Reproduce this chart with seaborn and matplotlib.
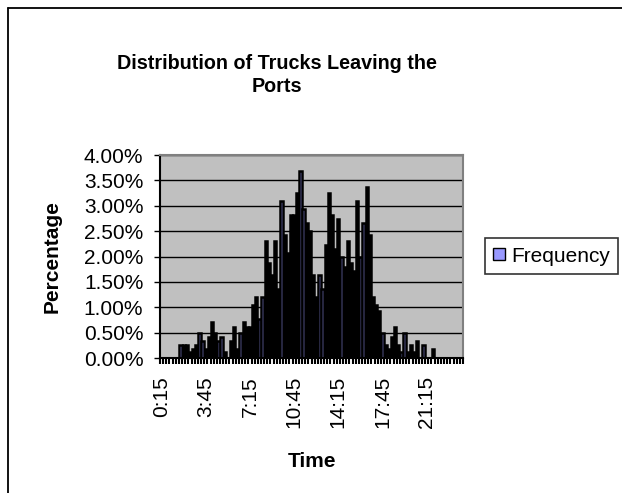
import matplotlib
matplotlib.use("Agg")
import matplotlib.pyplot as plt
from matplotlib.lines import Line2D
from matplotlib.ticker import PercentFormatter, FixedLocator
import seaborn as sns
import pandas as pd

# 15-minute time slots 0:15 ... 24:00
times = [f"{(m // 60)}:{m % 60:02d}" for m in range(15, 24 * 60 + 1, 15)]

# Frequency (percent of trucks) per 15-minute slot
frequency = [
    0, 0, 0, 0, 0, 0, 0.26, 0.26, 0.26, 0.11,
    0.18, 0.26, 0.49, 0.34, 0.18, 0.42, 0.70, 0.49, 0.34, 0.42,
    0.11, 0, 0.34, 0.62, 0.18, 0.49, 0.70, 0.62, 0.62, 1.05,
    1.21, 0.77, 1.21, 2.31, 1.88, 1.64, 2.31, 1.36, 3.10, 2.43,
    2.07, 2.82, 2.82, 3.25, 3.69, 2.94, 2.66, 2.50, 1.64, 1.21,
    1.64, 1.36, 2.23, 3.25, 2.82, 2.15, 2.74, 1.99, 1.80, 2.31,
    1.88, 1.72, 3.10, 1.99, 2.66, 3.37, 2.43, 1.21, 1.05, 0.93,
    0.50, 0.26, 0.18, 0.42, 0.62, 0.26, 0.11, 0.50, 0.11, 0.26,
    0.11, 0.34, 0, 0.26, 0, 0, 0.18, 0, 0, 0,
    0, 0, 0, 0, 0, 0,
]

tick_labels = ["0:15", "3:45", "7:15", "10:45", "14:15", "17:45", "21:15"]
y_ticks = [0, 0.5, 1.0, 1.5, 2.0, 2.5, 3.0, 3.5, 4.0]

df = pd.DataFrame({"Time": times, "Frequency": frequency})

sns.set_style("white")
plt.rcParams["font.family"] = ["Liberation Sans", "DejaVu Sans"]
plt.rcParams["text.color"] = "black"
plt.rcParams["axes.labelcolor"] = "black"
plt.rcParams["xtick.color"] = "black"
plt.rcParams["ytick.color"] = "black"

W, H = 622, 493
fig = plt.figure(figsize=(W / 100, H / 100), dpi=100)
fig.patch.set_facecolor("white")
ax = fig.add_axes([160 / W, (H - 358) / H, 303 / W, 203 / H])
ax.set_facecolor("#C0C0C0")

sns.barplot(data=df, x="Time", y="Frequency", ax=ax, order=times,
            color="#9999FF", edgecolor="black", linewidth=1.8,
            width=0.72, label="Frequency", saturation=1)

ax.set_xlim(-0.5, len(times) - 0.5)
ax.set_ylim(0, 4.0)
ax.set_yticks(y_ticks)
ax.yaxis.set_major_formatter(PercentFormatter(xmax=100, decimals=2))
ax.yaxis.grid(True, color="black", linewidth=1.0)
ax.set_axisbelow(True)

major_pos = [times.index(t) for t in tick_labels]
ax.set_xticks(major_pos)
ax.set_xticklabels(tick_labels, rotation=90)
ax.xaxis.set_minor_locator(FixedLocator([i - 0.5 for i in range(len(times) + 1)]))
ax.tick_params(axis="x", which="major", length=0, pad=13, labelsize=15,
               labelcolor="black")
ax.tick_params(axis="x", which="minor", length=4, width=1.5, color="black",
               direction="out", bottom=True)
ax.tick_params(axis="y", which="major", length=4, width=1, color="black",
               direction="out", left=True, labelsize=15, pad=8,
               labelcolor="black")

for side in ["top", "right"]:
    ax.spines[side].set_color("#808080")
    ax.spines[side].set_linewidth(1.5)
for side in ["left", "bottom"]:
    ax.spines[side].set_color("black")
    ax.spines[side].set_linewidth(1.5)

ax.set_xlabel("Time", fontsize=15, fontweight="bold", color="black")
ax.xaxis.set_label_coords(0.5, -(452 - 358) / 203)
ax.set_ylabel("Percentage", fontsize=15, fontweight="bold", color="black")
ax.yaxis.set_label_coords(-(160 - 62) / 303, 0.5)

fig.text(277 / W, 1 - 75 / H, "Distribution of Trucks Leaving the\nPorts",
         ha="center", va="center", fontsize=14.2, fontweight="bold",
         linespacing=1.25, color="black")

leg = ax.legend(loc="center left", bbox_to_anchor=(485 / W, 1 - 256 / H),
                bbox_transform=fig.transFigure, frameon=True, fancybox=False,
                edgecolor="black", fontsize=15, handlelength=0.55,
                handleheight=0.55, handletextpad=0.3, borderpad=0.4,
                borderaxespad=0, labelcolor="black")
leg.get_frame().set_linewidth(1.2)
for h in leg.legend_handles:
    h.set_linewidth(1.0)

# outer chart-area border (left and top visible)
fig.add_artist(Line2D([8 / W, 8 / W], [0, 1 - 8 / H], transform=fig.transFigure,
                      color="black", linewidth=1.3))
fig.add_artist(Line2D([8 / W, 1], [1 - 8 / H, 1 - 8 / H], transform=fig.transFigure,
                      color="black", linewidth=1.3))

fig.savefig("out.png", dpi=100)
